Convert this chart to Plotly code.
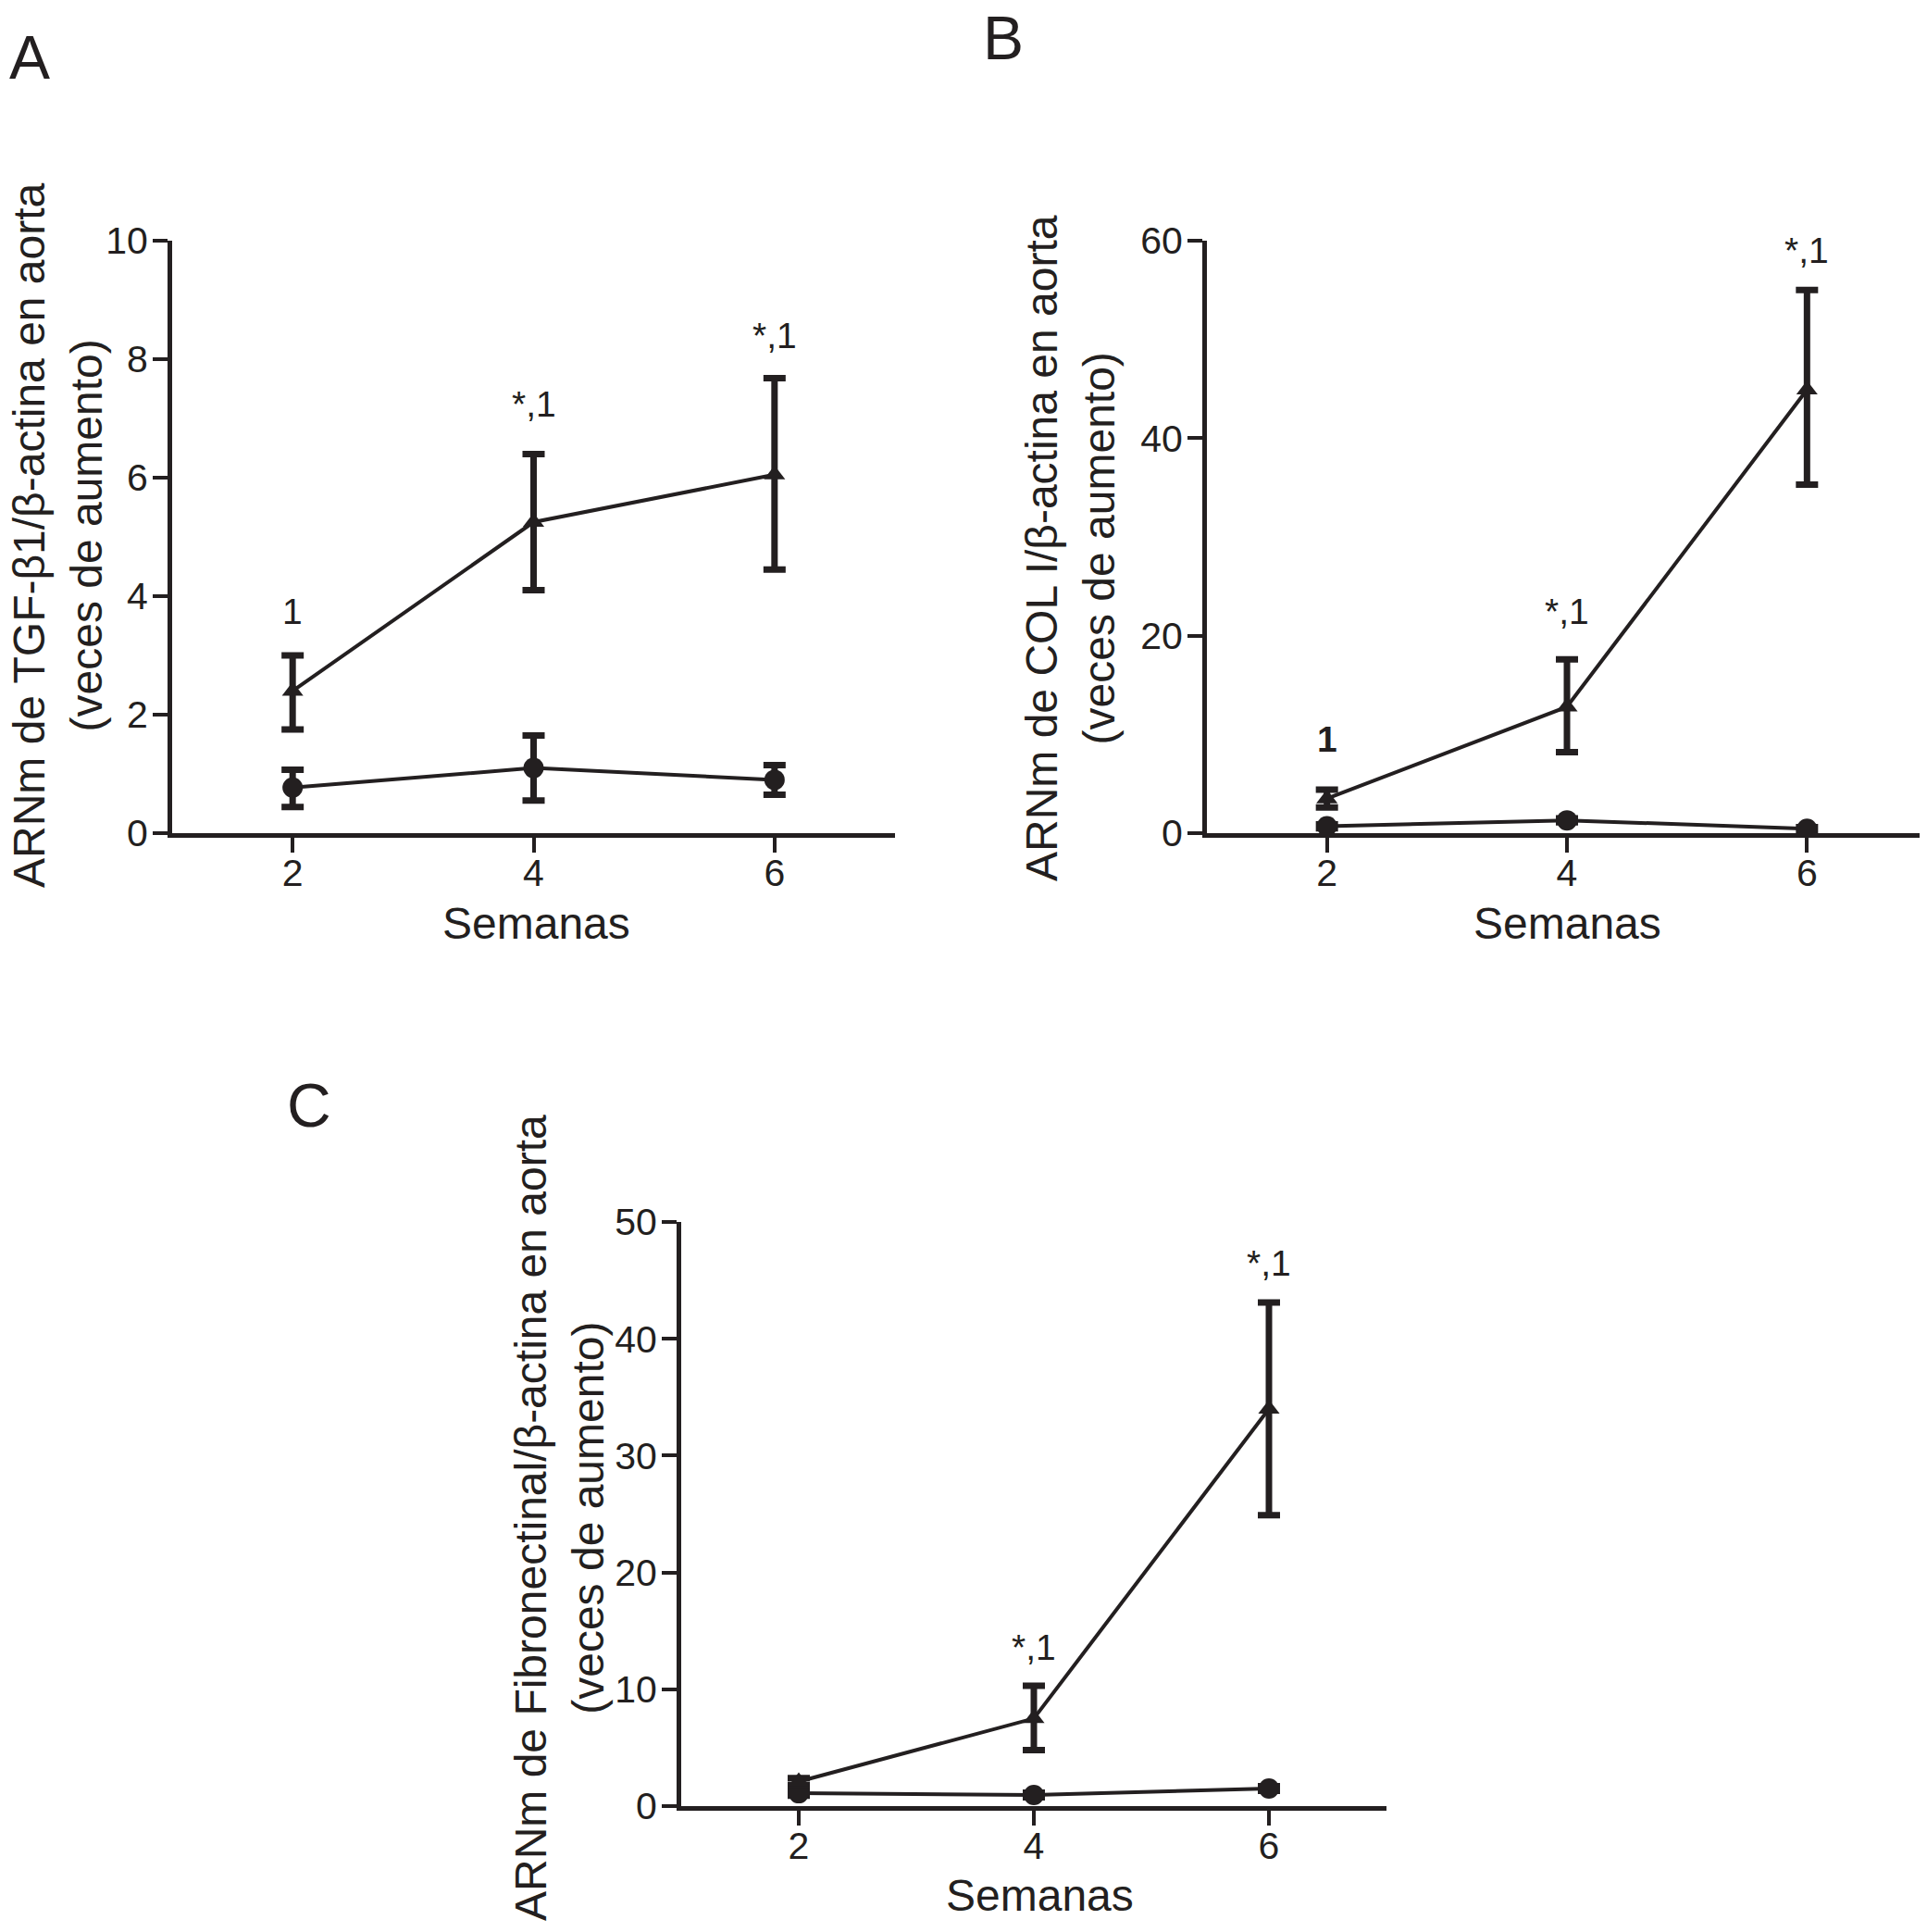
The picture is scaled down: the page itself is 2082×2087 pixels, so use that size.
import plotly.graph_objects as go

INK = "#231f20"
FONT = "Liberation Sans, Arial, Helvetica, sans-serif"

weeks = [2, 4, 6]

# panel A: TGF-beta1
a_tri = [2.4, 5.25, 6.05]
a_tri_up = [0.6, 1.15, 1.63]
a_tri_down = [0.65, 1.15, 1.6]
a_circ = [0.77, 1.1, 0.9]
a_circ_up = [0.3, 0.55, 0.25]
a_circ_down = [0.33, 0.55, 0.25]
a_marks = ["1", "*,1", "*,1"]
a_mark_y = [3.75, 7.25, 8.4]

# panel B: COL I
b_tri = [3.5, 12.8, 44.9]
b_tri_up = [0.9, 4.8, 10.1]
b_tri_down = [0.9, 4.6, 9.6]
b_circ = [0.7, 1.3, 0.45]
b_circ_up = [0.2, 0.2, 0.15]
b_circ_down = [0.2, 0.2, 0.15]
b_marks = ["<b>1</b>", "*,1", "*,1"]
b_mark_y = [9.5, 22.5, 59.0]

# panel C: Fibronectina
c_tri = [2.1, 7.5, 34.0]
c_tri_up = [0.3, 2.8, 9.1]
c_tri_down = [0.3, 2.7, 9.1]
c_circ = [1.1, 0.95, 1.5]
c_circ_up = [0.2, 0.2, 0.2]
c_circ_down = [0.2, 0.2, 0.2]
c_marks = ["", "*,1", "*,1"]
c_mark_y = [0, 13.6, 46.5]

W, H = 2082, 2087
PAGE_PAD = 8  # the page body puts the figure 8px in from the corner


def px_x(p):
    return (p - PAGE_PAD) / W


def px_y(p):
    return 1 - (p - PAGE_PAD) / H


fig = go.Figure()


def add_series(idx, y, up, down, symbol, size):
    sfx = "" if idx == 1 else str(idx)
    fig.add_trace(
        go.Scatter(
            x=weeks,
            y=y,
            mode="lines+markers",
            line=dict(color=INK, width=4),
            marker=dict(symbol=symbol, size=size, color=INK),
            error_y=dict(
                type="data",
                symmetric=False,
                array=up,
                arrayminus=down,
                color=INK,
                thickness=7,
                width=12,
            ),
            xaxis="x" + sfx,
            yaxis="y" + sfx,
            showlegend=False,
        )
    )


def axes(idx, xdom, ydom, yrange, dtick):
    sfx = "" if idx == 1 else str(idx)
    common = dict(
        showline=True,
        linecolor=INK,
        linewidth=5,
        ticks="outside",
        ticklen=16,
        tickwidth=4,
        tickcolor=INK,
        showgrid=False,
        zeroline=False,
        automargin=False,
        tickfont=dict(family=FONT, size=41, color=INK),
    )
    fig.update_layout(
        {
            "xaxis" + sfx: dict(
                common,
                domain=xdom,
                range=[1, 7],
                tickvals=weeks,
                anchor="y" + sfx,
                ticklabelstandoff=-13,
            ),
            "yaxis" + sfx: dict(
                common,
                domain=ydom,
                range=yrange,
                dtick=dtick,
                anchor="x" + sfx,
                ticklabelstandoff=-3,
            ),
        }
    )


panels = [
    (1, a_tri, a_tri_up, a_tri_down, a_circ, a_circ_up, a_circ_down, a_marks, a_mark_y),
    (2, b_tri, b_tri_up, b_tri_down, b_circ, b_circ_up, b_circ_down, b_marks, b_mark_y),
    (3, c_tri, c_tri_up, c_tri_down, c_circ, c_circ_up, c_circ_down, c_marks, c_mark_y),
]

for idx, tri, tu, td, circ, cu, cd, marks, mark_y in panels:
    add_series(idx, circ, cu, cd, "circle", 22)
    add_series(idx, tri, tu, td, "triangle-up", 20)
    sfx = "" if idx == 1 else str(idx)
    for wk, txt, yy in zip(weeks, marks, mark_y):
        if txt:
            fig.add_annotation(
                x=wk, y=yy, xref="x" + sfx, yref="y" + sfx, text=txt,
                showarrow=False, font=dict(family=FONT, size=39, color=INK),
            )

axes(1, [px_x(186), px_x(967)], [px_y(900), px_y(260)], [0, 10], 2)
axes(2, [px_x(1304), px_x(2082)], [px_y(900), px_y(260)], [0, 60], 20)
axes(3, [px_x(736), px_x(1498)], [px_y(1951), px_y(1320)], [0, 50], 10)

titles = [
    # text, x px, y px, angle
    ("ARNm de TGF-β1/β-actina en aorta<br>(veces de aumento)", 62, 578, -90),
    ("ARNm de COL I/β-actina en aorta<br>(veces de aumento)", 1156, 592, -90),
    ("ARNm de Fibronectinal/β-actina en aorta<br>(veces de aumento)", 604, 1640, -90),
    ("Semanas", 579, 997, 0),
    ("Semanas", 1693, 997, 0),
    ("Semanas", 1123, 2047, 0),
]
for txt, x, y, ang in titles:
    fig.add_annotation(
        x=px_x(x), y=px_y(y), xref="paper", yref="paper", text=txt,
        textangle=ang, showarrow=False, xanchor="center", yanchor="middle",
        borderpad=0, font=dict(family=FONT, size=48, color=INK),
    )

letters = [("A", 32, 62), ("B", 1084, 41), ("C", 334, 1194)]
for txt, x, y in letters:
    fig.add_annotation(
        x=px_x(x), y=px_y(y), xref="paper", yref="paper", text=txt,
        showarrow=False, xanchor="center", yanchor="middle", borderpad=0,
        font=dict(family=FONT, size=66, color=INK),
    )

fig.update_layout(
    width=W,
    height=H,
    margin=dict(l=0, r=0, t=0, b=0, autoexpand=False),
    plot_bgcolor="white",
    paper_bgcolor="white",
)

fig.write_html("out.html")
